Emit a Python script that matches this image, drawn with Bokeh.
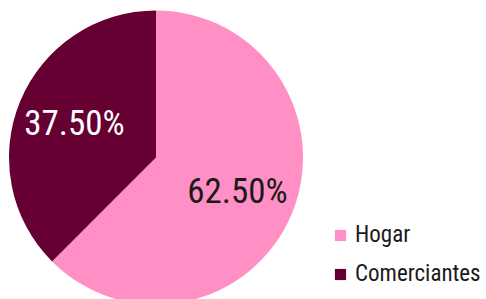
import numpy as np
from bokeh.plotting import figure
from bokeh.models import ColumnDataSource, Legend, LegendItem
from bokeh.core.properties import value
from bokeh.embed import file_html
from bokeh.resources import INLINE

categories = ["Hogar", "Comerciantes"]
shares = [62.5, 37.5]
colors = ["#FF8FC4", "#660033"]
label_colors = ["#1a1a1a", "#ffffff"]

W, H = 486, 299
FONT = "Roboto Condensed"
cx, cy, R = 155.5, 142, 147

frac = np.array(shares) / sum(shares)
ends = np.pi / 2 - 2 * np.pi * np.cumsum(frac)
starts = np.concatenate([[np.pi / 2], ends[:-1]])
mids = (starts + ends) / 2

p = figure(width=W, height=H, x_range=(0, W), y_range=(0, H),
           output_backend="svg", toolbar_location=None, min_border=0)
p.axis.visible = False
p.grid.visible = False
p.outline_line_color = None
p.background_fill_color = "white"

renderers = []
for i, c in enumerate(categories):
    r = p.wedge(x=cx, y=cy, radius=R, start_angle=ends[i], end_angle=starts[i],
                fill_color=colors[i], line_color=None)
    renderers.append(r)

src = ColumnDataSource(dict(
    x=cx + 0.6 * R * np.cos(mids),
    y=cy + 0.6 * R * np.sin(mids),
    t=[f"{s:.2f}%" for s in shares],
    c=label_colors,
))
p.text(x="x", y="y", text="t", text_color="c", source=src,
       text_font=value(FONT), text_font_size="35px",
       text_align="center", text_baseline="middle")

legend = Legend(items=[LegendItem(label=c, renderers=[r]) for c, r in zip(categories, renderers)],
                location=(333, 12), padding=0, margin=0, spacing=12,
                glyph_width=14, glyph_height=14, label_standoff=8,
                label_text_font=FONT, label_text_font_size="23px",
                label_text_color="#1a1a1a",
                border_line_color=None, background_fill_alpha=0)
p.add_layout(legend)

open("out.html", "w").write(file_html(p, INLINE))
